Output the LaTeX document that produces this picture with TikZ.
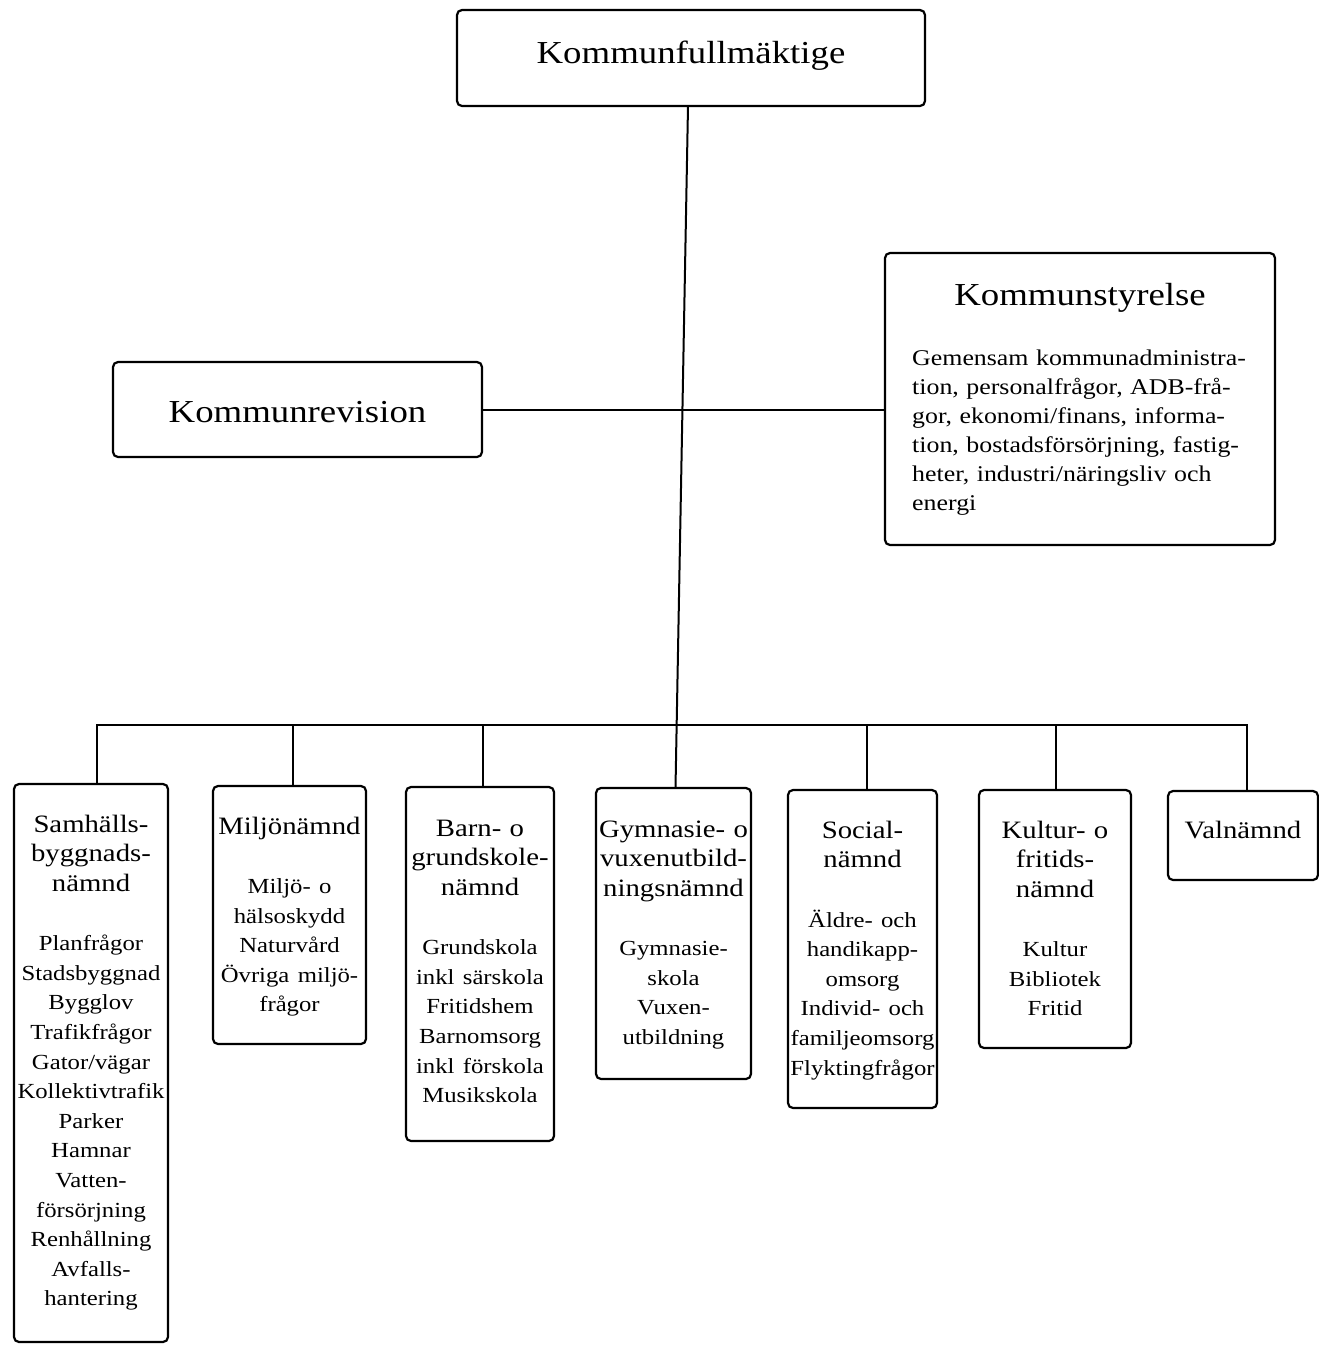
\documentclass[tikz,border=0pt]{standalone}
\usepackage{fontspec}
\setmainfont[FakeStretch=1.15]{Liberation Serif}
% font sizes: large titles, committee headings, body lines
\newcommand\titlefont{\fontsize{32}{38}\selectfont}
\newcommand\hdfont{\fontsize{25}{29.6}\selectfont}
\newcommand\bdfont{\fontsize{21.5}{29.6}\selectfont}
\newcommand\ksfont{\fontsize{22.5}{29}\selectfont}
\newcommand\topstrut{\rule{0pt}{20pt}}
\begin{document}
\begin{tikzpicture}[x=1pt,y=-1pt,
  box/.style={draw, line width=2.2pt, rounded corners=5pt, inner sep=0pt, outer sep=0pt, anchor=north west},
  wire/.style={line width=2pt},
  title/.style={inner sep=0pt, anchor=base, font=\titlefont},
  unit/.style={inner sep=0pt, anchor=north, text width=210pt, align=center, font=\hdfont},
]
\useasboundingbox (0,0) rectangle (1319,1345);

% top level
\node[box, minimum width=468pt, minimum height=96pt] (kf) at (457,10) {};
\node[title] (kf-t) at ([yshift=-53pt]kf.north) {Kommunfullmäktige};

\node[box, minimum width=369pt, minimum height=95pt] (kr) at (113,362) {};
\node[title] (kr-t) at ([yshift=-60pt]kr.north) {Kommunrevision};

\node[box, minimum width=390pt, minimum height=292pt] (ks) at (885,253) {};
\node[title] (ks-t) at ([yshift=-52pt]ks.north) {Kommunstyrelse};
\node[inner sep=0pt, anchor=north west, text width=360pt, align=left, font=\ksfont]
  (ks-b) at (912,345) {\topstrut Gemensam kommunadministra-\\
  tion, personalfrågor, ADB-frå-\\
  gor, ekonomi/finans, informa-\\
  tion, bostadsförsörjning, fastig-\\
  heter, industri/näringsliv och\\
  energi};

% committees
\node[box, minimum width=154pt, minimum height=558pt] (samh) at (14,784) {};
\node[box, minimum width=153pt, minimum height=258pt] (milj) at (213,786) {};
\node[box, minimum width=148pt, minimum height=354pt] (barn) at (406,787) {};
\node[box, minimum width=155pt, minimum height=291pt] (gym)  at (596,788) {};
\node[box, minimum width=149pt, minimum height=318pt] (soc)  at (788,790) {};
\node[box, minimum width=152pt, minimum height=258pt] (kult) at (979,790) {};
\node[box, minimum width=150pt, minimum height=89pt]  (valn) at (1168,791) {};

\node[unit] (samh-t) at ([yshift=-28pt]samh.north) {\topstrut Samhälls-\\byggnads-\\nämnd\\[29.6pt]
  \bdfont Planfrågor\\Stadsbyggnad\\Bygglov\\Trafikfrågor\\Gator/vägar\\Kollektivtrafik\\Parker\\Hamnar\\Vatten-\\försörjning\\Renhållning\\Avfalls-\\hantering};
\node[unit] (milj-t) at ([yshift=-28pt]milj.north) {\topstrut Miljönämnd\\[29.6pt]
  \bdfont Miljö- o\\hälsoskydd\\Naturvård\\Övriga miljö-\\frågor};
\node[unit] (barn-t) at ([yshift=-29pt]barn.north) {\topstrut Barn- o\\grundskole-\\nämnd\\[29.6pt]
  \bdfont Grundskola\\inkl särskola\\Fritidshem\\Barnomsorg\\inkl förskola\\Musikskola};
\node[unit] (gym-t) at ([yshift=-29pt]gym.north) {\topstrut Gymnasie- o\\vuxenutbild-\\ningsnämnd\\[29.6pt]
  \bdfont Gymnasie-\\skola\\Vuxen-\\utbildning};
\node[unit] (soc-t) at ([yshift=-28pt]soc.north) {\topstrut Social-\\nämnd\\[29.6pt]
  \bdfont Äldre- och\\handikapp-\\omsorg\\Individ- och\\familjeomsorg\\Flyktingfrågor};
\node[unit] (kult-t) at ([yshift=-28pt]kult.north) {\topstrut Kultur- o\\fritids-\\nämnd\\[29.6pt]
  \bdfont Kultur\\Bibliotek\\Fritid};
\node[unit] (valn-t) at ([yshift=-27pt]valn.north) {\topstrut Valnämnd};

% connectors
\coordinate (bus) at (0,725);
\draw[wire] ([xshift=-3pt]kf.south) -- ([xshift=2pt]gym.north);
\draw[wire] (kr.east) -- (kr.east -| ks.west);
\draw[wire] ([xshift=6pt]samh.north) -- ([xshift=6pt]samh.north |- bus)
  -- ([xshift=4pt]valn.north |- bus) -- ([xshift=4pt]valn.north);
\foreach \n/\dx in {milj/3.5,barn/3,soc/4.5,kult/1}
  \draw[wire] ([xshift=\dx pt]\n.north) -- ([xshift=\dx pt]\n.north |- bus);
\end{tikzpicture}
\end{document}
